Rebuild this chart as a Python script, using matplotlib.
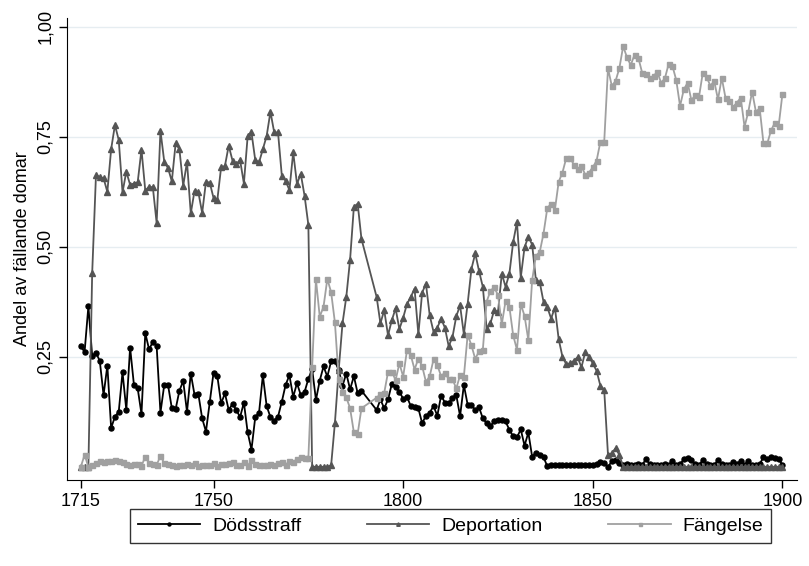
import numpy as np
import matplotlib
matplotlib.use("Agg")
import matplotlib.pyplot as plt

plt.rcParams["font.family"] = ["Liberation Sans", "DejaVu Sans"]

years = np.arange(1715, 1901)
nan = np.nan

# Share of convictions, one value per year (1790-1792 missing)
dodsstraff = [
    0.274, 0.261, 0.365, 0.252, 0.259, 0.241, 0.163, 0.230, 0.088, 0.114,
    0.125, 0.215, 0.129, 0.271, 0.187, 0.178, 0.120, 0.304, 0.267, 0.284,
    0.274, 0.123, 0.186, 0.186, 0.133, 0.131, 0.173, 0.195, 0.125, 0.212,
    0.163, 0.165, 0.110, 0.080, 0.147, 0.214, 0.206, 0.144, 0.167, 0.129,
    0.143, 0.129, 0.113, 0.146, 0.078, 0.039, 0.113, 0.123, 0.208, 0.138,
    0.113, 0.105, 0.114, 0.148, 0.186, 0.208, 0.159, 0.190, 0.163, 0.170,
    0.200, 0.222, 0.152, 0.196, 0.228, 0.205, 0.240, 0.240, 0.220, 0.184,
    0.212, 0.176, 0.206, 0.167, 0.173, nan, nan, nan, 0.129, 0.153,
    0.133, 0.153, 0.188, 0.182, 0.170, 0.155, 0.159, 0.138, 0.135, 0.133,
    0.099, 0.116, 0.123, 0.138, 0.116, 0.162, 0.146, 0.145, 0.157, 0.163,
    0.115, 0.186, 0.141, 0.140, 0.129, 0.135, 0.110, 0.099, 0.093, 0.103,
    0.107, 0.107, 0.103, 0.084, 0.069, 0.067, 0.085, 0.048, 0.078, 0.023,
    0.032, 0.027, 0.022, 0.001, 0.005, 0.003, 0.004, 0.003, 0.003, 0.004,
    0.003, 0.005, 0.004, 0.004, 0.003, 0.005, 0.006, 0.010, 0.008, 0.000,
    0.012, 0.016, 0.008, 0.004, 0.006, 0.004, 0.005, 0.006, 0.004, 0.017,
    0.006, 0.004, 0.005, 0.004, 0.006, 0.004, 0.012, 0.005, 0.006, 0.017,
    0.020, 0.015, 0.006, 0.004, 0.015, 0.006, 0.005, 0.004, 0.015, 0.006,
    0.004, 0.005, 0.010, 0.006, 0.014, 0.005, 0.012, 0.004, 0.005, 0.006,
    0.022, 0.017, 0.022, 0.020, 0.018, 0.004,
][:186]

deportation = [
    0.000, 0.000, 0.000, 0.440, 0.663, 0.659, 0.656, 0.625, 0.722, 0.777,
    0.743, 0.624, 0.671, 0.641, 0.644, 0.647, 0.721, 0.628, 0.637, 0.635,
    0.554, 0.764, 0.694, 0.679, 0.649, 0.735, 0.722, 0.639, 0.693, 0.576,
    0.628, 0.624, 0.577, 0.648, 0.646, 0.611, 0.607, 0.681, 0.684, 0.730,
    0.696, 0.688, 0.697, 0.644, 0.752, 0.760, 0.697, 0.692, 0.722, 0.752,
    0.807, 0.760, 0.760, 0.662, 0.650, 0.629, 0.715, 0.643, 0.666, 0.616,
    0.550, 0.000, 0.000, 0.000, 0.000, 0.000, 0.003, 0.100, 0.220, 0.326,
    0.386, 0.471, 0.591, 0.598, 0.518, nan, nan, nan, 0.386, 0.326,
    0.356, 0.299, 0.333, 0.360, 0.313, 0.339, 0.370, 0.386, 0.405, 0.301,
    0.396, 0.416, 0.344, 0.307, 0.316, 0.337, 0.316, 0.274, 0.295, 0.342,
    0.367, 0.301, 0.371, 0.450, 0.485, 0.445, 0.409, 0.314, 0.326, 0.356,
    0.352, 0.439, 0.409, 0.439, 0.511, 0.556, 0.430, 0.499, 0.523, 0.505,
    0.424, 0.420, 0.375, 0.363, 0.337, 0.362, 0.290, 0.250, 0.233, 0.235,
    0.241, 0.249, 0.226, 0.261, 0.250, 0.235, 0.218, 0.184, 0.175, 0.027,
    0.031, 0.042, 0.027, 0.000, 0.000, 0.000, 0.000, 0.000, 0.000, 0.000,
    0.000, 0.000, 0.000, 0.000, 0.000, 0.000, 0.000, 0.000, 0.000, 0.000,
    0.000, 0.000, 0.000, 0.000, 0.000, 0.000, 0.000, 0.000, 0.000, 0.000,
    0.000, 0.000, 0.000, 0.000, 0.000, 0.000, 0.000, 0.000, 0.000, 0.000,
    0.000, 0.000, 0.000, 0.000, 0.000, 0.000,
]

fangelse = [
    0.000, 0.027, 0.000, 0.005, 0.008, 0.012, 0.010, 0.014, 0.012, 0.015,
    0.012, 0.010, 0.006, 0.005, 0.007, 0.006, 0.002, 0.023, 0.008, 0.006,
    0.004, 0.025, 0.008, 0.006, 0.005, 0.002, 0.004, 0.005, 0.006, 0.003,
    0.008, 0.002, 0.003, 0.005, 0.004, 0.008, 0.002, 0.006, 0.007, 0.008,
    0.010, 0.003, 0.003, 0.010, 0.002, 0.015, 0.007, 0.005, 0.003, 0.004,
    0.006, 0.004, 0.008, 0.010, 0.005, 0.012, 0.010, 0.018, 0.022, 0.020,
    0.020, 0.227, 0.426, 0.341, 0.364, 0.427, 0.397, 0.328, 0.200, 0.171,
    0.158, 0.133, 0.078, 0.075, 0.133, nan, nan, nan, 0.157, 0.165,
    0.168, 0.215, 0.216, 0.197, 0.235, 0.205, 0.265, 0.254, 0.221, 0.246,
    0.229, 0.193, 0.206, 0.244, 0.231, 0.206, 0.214, 0.199, 0.199, 0.178,
    0.208, 0.205, 0.300, 0.276, 0.245, 0.263, 0.266, 0.375, 0.400, 0.408,
    0.390, 0.324, 0.377, 0.364, 0.299, 0.266, 0.370, 0.343, 0.288, 0.424,
    0.480, 0.488, 0.530, 0.588, 0.598, 0.584, 0.648, 0.669, 0.702, 0.702,
    0.687, 0.677, 0.684, 0.664, 0.669, 0.681, 0.696, 0.739, 0.738, 0.906,
    0.866, 0.877, 0.906, 0.956, 0.931, 0.913, 0.937, 0.930, 0.896, 0.894,
    0.884, 0.888, 0.898, 0.873, 0.883, 0.916, 0.911, 0.879, 0.820, 0.858,
    0.873, 0.833, 0.845, 0.841, 0.896, 0.886, 0.866, 0.877, 0.835, 0.884,
    0.838, 0.832, 0.818, 0.828, 0.839, 0.773, 0.807, 0.853, 0.807, 0.815,
    0.735, 0.735, 0.765, 0.782, 0.775, 0.848,
]

series = [
    ("Dödsstraff", dodsstraff, "black", "o", 3.6),
    ("Deportation", deportation, "#555555", "^", 4.2),
    ("Fängelse", fangelse, "#a0a0a0", "s", 3.6),
]

fig = plt.figure(figsize=(8.09, 5.66), dpi=100)
ax = fig.add_axes([0.083, 0.152, 0.902, 0.816])

for label, vals, color, marker, ms in series:
    v = np.array(vals, dtype=float)
    ok = np.isfinite(v)
    ax.plot(years[ok], v[ok], color=color, marker=marker, markersize=ms,
            linewidth=1.3, label=label)

ax.set_xlim(1711.4, 1903.8)
ax.set_ylim(-0.03, 1.02)

ax.set_xticks([1715, 1750, 1800, 1850, 1900])
ax.set_yticks([0.25, 0.5, 0.75, 1.0])
ax.set_yticklabels(["0,25", "0,50", "0,75", "1,00"], rotation=90, va="center")
ax.tick_params(axis="both", labelsize=13, length=6, width=1, direction="out")
ax.set_ylabel("Andel av fällande domar", fontsize=13, labelpad=4)

ax.grid(axis="y", color="#e6edf1", linewidth=1.0)
ax.set_axisbelow(True)
for side in ["top", "right"]:
    ax.spines[side].set_visible(False)

leg = fig.legend(loc="center", bbox_to_anchor=(0.557, 0.0707), ncol=3,
                 fontsize=14, frameon=True, fancybox=False, edgecolor="black",
                 handlelength=3.2, handletextpad=0.6, markerscale=0.6,
                 columnspacing=3.4, borderpad=0.4, borderaxespad=0)
leg.get_frame().set_linewidth(1.0)

fig.savefig("out.png", dpi=100)
